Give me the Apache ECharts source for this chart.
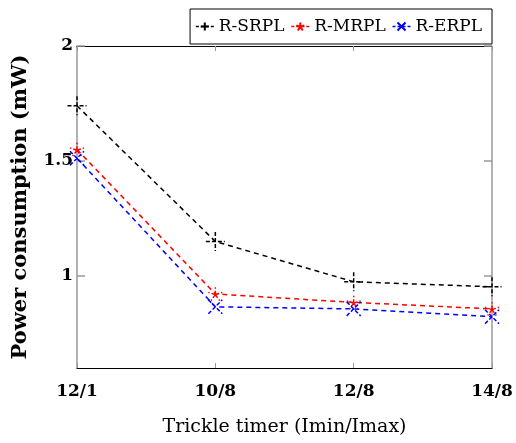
<!DOCTYPE html>
<html><head><meta charset="utf-8">
<script src="https://cdn.jsdelivr.net/npm/echarts@6/dist/echarts.min.js"></script>
<style>html,body{margin:0;padding:0;background:#fff}#c{width:516px;height:443px}</style>
</head><body><div id="c"></div>
<script>
const categories = ['12/1', '10/8', '12/8', '14/8'];
const srpl = [1.74, 1.15, 0.975, 0.953];
const mrpl = [1.55, 0.922, 0.885, 0.857];
const erpl = [1.512, 0.866, 0.857, 0.823];
const yTicks = [1, 1.5, 2];

const FONT = 'DejaVu Serif';
const plusSym = 'path://M0,-10L0,10M-10,0L10,0';
const starSym = 'path://M0,0L0,-10M0,0L9.51,-3.09M0,0L5.88,8.09M0,0L-5.88,8.09M0,0L-9.51,-3.09';
const crossSym = 'path://M-10,-10L10,10M-10,10L10,-10';

function mk(name, data, color, sym, size) {
  return {
    name, type: 'line', data, symbol: sym, symbolSize: size, symbolKeepAspect: true,
    showSymbol: true,
    lineStyle: { color, width: 1.5, type: [5, 4] },
    itemStyle: { color: 'rgba(0,0,0,0)', borderColor: color, borderWidth: 1.5, borderType: [4, 2] },
    emphasis: { disabled: true }, animation: false
  };
}
const gray = '#999';
const chart = echarts.init(document.getElementById('c'));
chart.setOption({
  animation: false,
  grid: { left: 77, right: 24, top: 46, bottom: 75 },
  legend: {
    right: 24, top: 9, orient: 'horizontal',
    borderColor: '#000', borderWidth: 1, backgroundColor: '#fff',
    padding: [9, 10, 9, 5], itemGap: 6, itemWidth: 18, itemHeight: 10,
    lineStyle: { type: [3, 2], width: 1.5 },
    textStyle: { fontFamily: FONT, fontSize: 17, color: '#000' },
    data: ['R-SRPL', 'R-MRPL', 'R-ERPL']
  },
  xAxis: [{
    type: 'category', data: categories, boundaryGap: false,
    name: 'Trickle timer (Imin/Imax)', nameLocation: 'middle', nameGap: 50,
    nameTextStyle: { fontFamily: FONT, fontSize: 19, color: '#000' },
    axisLine: { lineStyle: { color: '#000', width: 1 } },
    axisTick: { inside: true, length: 5, lineStyle: { color: gray } },
    axisLabel: { fontFamily: FONT, fontWeight: 'bold', fontSize: 17, color: '#000', margin: 15 },
    splitLine: { show: false }
  }, {
    type: 'category', data: categories, boundaryGap: false, position: 'top',
    axisLine: { lineStyle: { color: '#000', width: 1 } },
    axisTick: { inside: true, length: 5, lineStyle: { color: gray } },
    axisLabel: { show: false }, splitLine: { show: false }
  }],
  yAxis: [{
    type: 'value', min: 0.6, max: 2,
    name: 'Power consumption (mW)', nameLocation: 'middle', nameGap: 46,
    nameTextStyle: { fontFamily: FONT, fontSize: 21, fontWeight: 'bold', color: '#000' },
    axisLine: { show: true, lineStyle: { color: gray, width: 1.5 } },
    axisTick: { show: true, inside: true, length: 8, customValues: yTicks, lineStyle: { color: gray, width: 1.5 } },
    axisLabel: { fontFamily: FONT, fontWeight: 'bold', fontSize: 17, color: '#000', margin: 4, customValues: yTicks },
    splitLine: { show: false }
  }, {
    type: 'value', min: 0.6, max: 2, position: 'right',
    axisLine: { show: true, lineStyle: { color: gray, width: 1.5 } },
    axisTick: { show: true, inside: true, length: 8, customValues: yTicks, lineStyle: { color: gray, width: 1.5 } },
    axisLabel: { show: false, customValues: yTicks }, splitLine: { show: false }
  }],
  series: [
    mk('R-SRPL', srpl, '#000', plusSym, 19),
    mk('R-MRPL', mrpl, '#ff0000', starSym, 14),
    mk('R-ERPL', erpl, '#0000ff', crossSym, 14)
  ]
});
</script></body></html>
